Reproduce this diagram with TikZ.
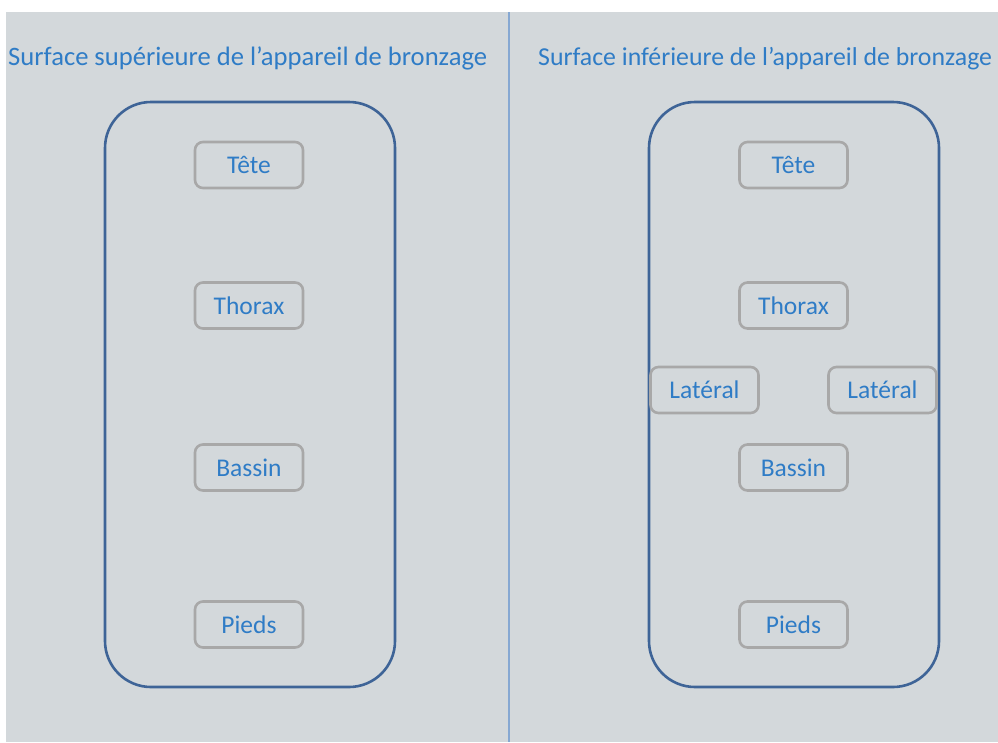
\documentclass[tikz,border=0pt]{standalone}
\usepackage{fontspec}
\setmainfont{Carlito}
\definecolor{panelgray}{HTML}{D3D8DB}
\definecolor{framebluee}{HTML}{3E6497}
\definecolor{boxgray}{HTML}{A8A8A8}
\definecolor{labelblue}{HTML}{2F7CC6}
\definecolor{dividerblue}{HTML}{86A8D2}
\tikzset{
  title/.style={anchor=base west, inner sep=0pt, text=labelblue, font=\fontsize{26.6}{32}\selectfont},
  bodyframe/.style={draw=framebluee, line width=2.6pt, rounded corners=46pt,
    minimum width=290pt, minimum height=585pt, inner sep=0pt},
  zonebox/.style={draw=boxgray, line width=2.6pt, rounded corners=8pt, fill=panelgray,
    minimum width=108pt, minimum height=46pt, inner sep=0pt, text=labelblue,
    font=\fontsize{25.5}{30}\selectfont}
}
\begin{document}
\begin{tikzpicture}[x=1pt,y=-1pt]
  \useasboundingbox (0,0) rectangle (998,742);
  \fill[white] (0,0) rectangle (998,742);
  \fill[panelgray] (6,12) rectangle (998,742);
  \clip (0,0) rectangle (998,742);

  % divider between the two surfaces
  \coordinate (divtop) at (509,12);
  \coordinate (divbot) at (509,742);
  \draw[dividerblue, line width=1.6pt] (divtop) -- (divbot);

  % headings
  \node[title] (titleL) at (8,65) {Surface supérieure de l’appareil de bronzage};
  \node[title, font=\fontsize{25.8}{31}\selectfont] (titleR) at (538,65) {Surface inférieure de l’appareil de bronzage};

  % upper surface
  \node[bodyframe] (bodyL) at (250,394.5) {};
  \node[zonebox] (teteL)   at (249,165)   {Tête};
  \node[zonebox] (thoraxL) at (249,305.5) {Thorax};
  \node[zonebox] (bassinL) at (249,467.5) {Bassin};
  \node[zonebox] (piedsL)  at (249,624.5) {Pieds};

  % lower surface
  \node[bodyframe] (bodyR) at (794,394.5) {};
  \node[zonebox] (teteR)   at (793.5,165)   {Tête};
  \node[zonebox] (thoraxR) at (793.5,305.5) {Thorax};
  \node[zonebox] (latL)    at (704.5,390)   {Latéral};
  \node[zonebox] (latR)    at (882.5,390)   {Latéral};
  \node[zonebox] (bassinR) at (793.5,467.5) {Bassin};
  \node[zonebox] (piedsR)  at (793.5,624.5) {Pieds};
\end{tikzpicture}
\end{document}
